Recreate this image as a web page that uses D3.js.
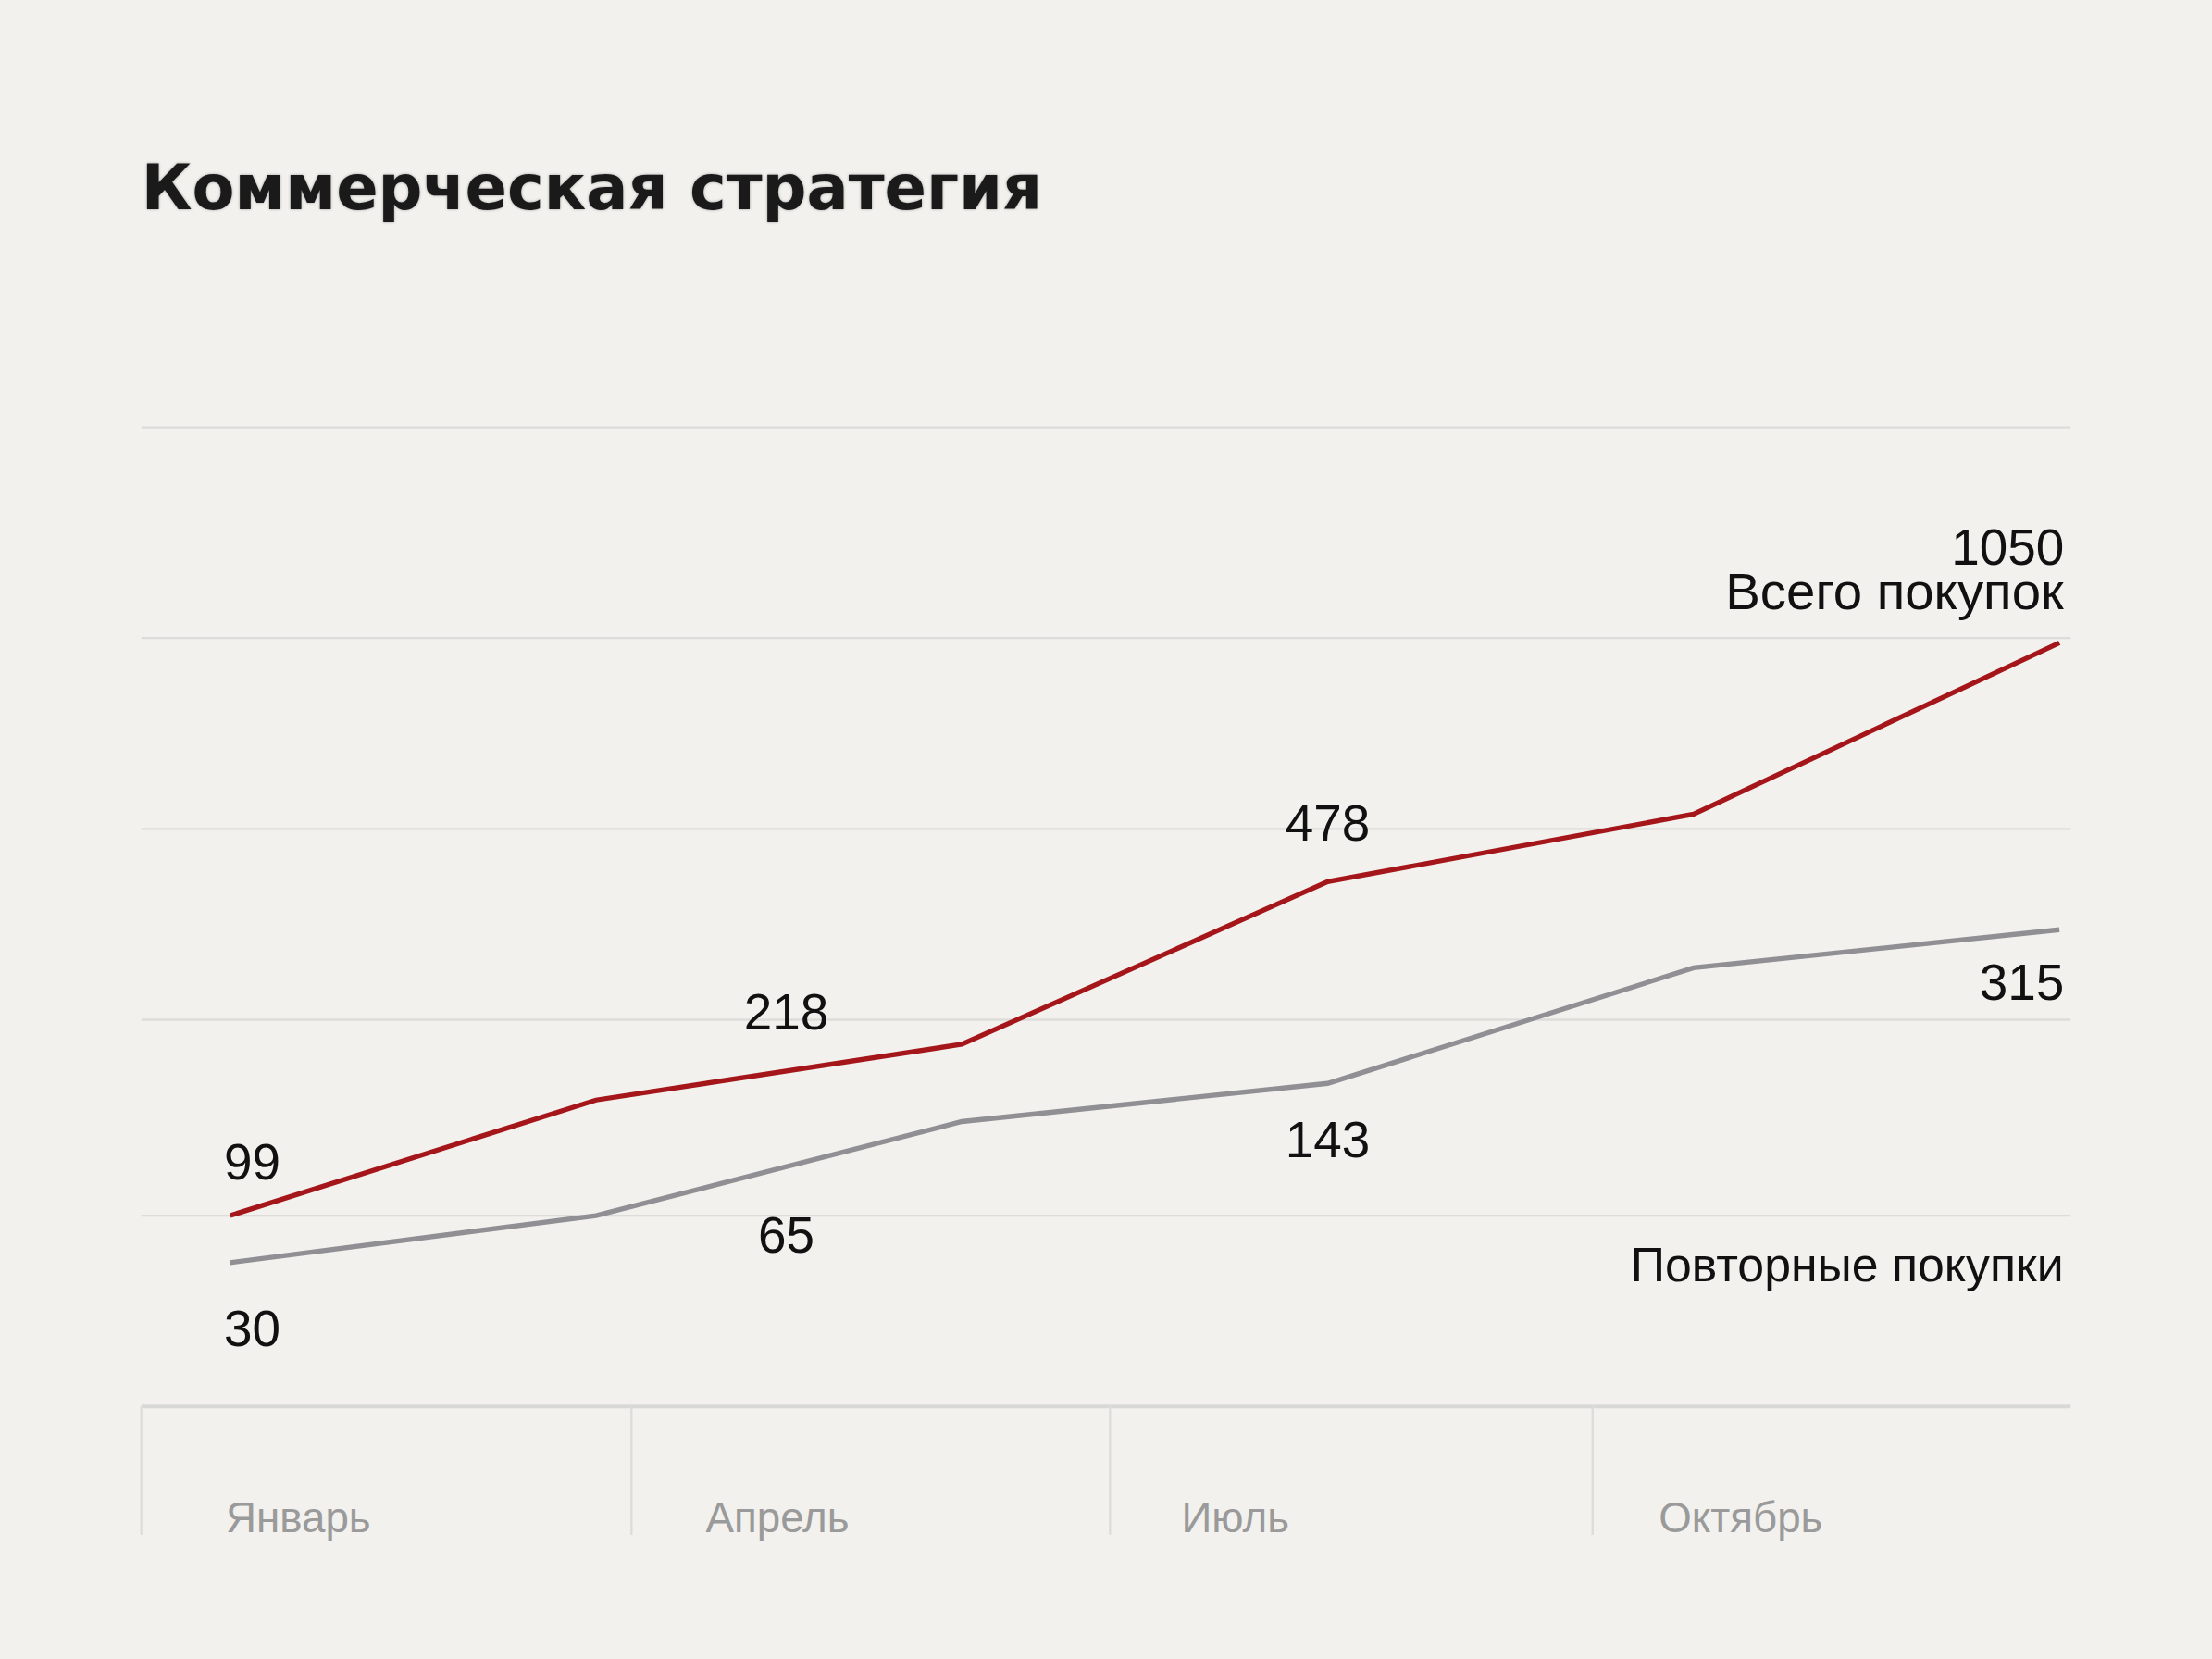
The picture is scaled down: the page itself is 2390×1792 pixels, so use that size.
<!DOCTYPE html>
<html><head><meta charset="utf-8">
<script src="https://cdn.jsdelivr.net/npm/d3@7"></script>
<style>
body{margin:0;background:#f2f1ee;}
text{font-family:"Liberation Sans",Arial,sans-serif;}
</style></head>
<body>
<script>
// data (chart units)
var pointIndex = [0, 1, 2, 3, 4, 5];
var totalLevels = [195, 313, 370, 536, 605, 780];
var repeatLevels = [147, 195, 291, 330, 448, 487];
var gridLevels = [0, 195, 395, 590, 785, 1000];
var months = ['Январь', 'Апрель', 'Июль', 'Октябрь'];
var monthPos = [-0.012, 1.30, 2.60, 3.905];
var tickPos = [-0.243, 1.097, 2.405, 3.724];
var valueLabels = [
  {t: '99', i: 0.06, v: 232},
  {t: '218', i: 1.52, v: 385},
  {t: '478', i: 3.0, v: 578},
  {t: '1050', i: 4.94, v: 860},
  {t: '30', i: 0.06, v: 62},
  {t: '65', i: 1.52, v: 157},
  {t: '143', i: 3.0, v: 255},
  {t: '315', i: 4.94, v: 415}
];

// ----------------------------------------------------------------------------
var svg = d3.select('body').append('svg')
  .attr('width', 2390).attr('height', 1792)
  .attr('viewBox', '0 0 1568 1176');

var x = d3.scaleLinear().domain([0, 5]).range([163, 1460]);
var y = d3.scaleLinear().domain([0, 1000]).range([997, 303]);

svg.append('text').attr('x', 100).attr('y', 148)
  .style('font-family', '"DejaVu Sans", sans-serif')
  .style('font-size', '44px').style('font-weight', 'bold').style('fill', '#1a1a1a')
  .style('text-shadow', '0 0 3px rgba(0,0,0,0.35)')
  .text('Коммерческая стратегия');

svg.selectAll('.grid').data(gridLevels).enter().append('line')
  .attr('x1', 100).attr('x2', 1468)
  .attr('y1', function (d) { return y(d); })
  .attr('y2', function (d) { return y(d); })
  .style('stroke', function (d) { return d === 0 ? '#d8d8d6' : '#dcdcda'; })
  .style('stroke-width', function (d) { return d === 0 ? 2.5 : 1.5; });

svg.selectAll('.tick').data(tickPos).enter().append('line')
  .attr('x1', function (d) { return x(d); })
  .attr('x2', function (d) { return x(d); })
  .attr('y1', y(0)).attr('y2', 1088)
  .style('stroke', '#dcdcda').style('stroke-width', 1.5);

svg.selectAll('.month').data(months).enter().append('text')
  .attr('x', function (d, i) { return x(monthPos[i]); })
  .attr('y', 1086)
  .style('font-size', '30px').style('fill', '#9a9a9a')
  .text(function (d) { return d; });

var line = d3.line()
  .x(function (d, i) { return x(pointIndex[i]); })
  .y(function (d) { return y(d); });

svg.append('path').datum(repeatLevels).attr('d', line)
  .style('fill', 'none').style('stroke', '#8f8f94').style('stroke-width', 3.5);
svg.append('path').datum(totalLevels).attr('d', line)
  .style('fill', 'none').style('stroke', '#a5161a').style('stroke-width', 3.5);

svg.selectAll('.val').data(valueLabels).enter().append('text')
  .attr('x', function (d) { return x(d.i); })
  .attr('y', function (d) { return y(d.v); })
  .attr('text-anchor', function (d) { return d.i > 4.5 ? 'end' : 'middle'; })
  .attr('dx', function (d) { return d.i > 4.5 ? 19 : 0; })
  .style('font-size', '36px').style('fill', '#111')
  .text(function (d) { return d.t; });

svg.append('text').attr('x', 1463).attr('y', 432).attr('text-anchor', 'end')
  .style('font-size', '37px').style('fill', '#111').text('Всего покупок');
svg.append('text').attr('x', 1463).attr('y', 908).attr('text-anchor', 'end')
  .style('font-size', '34px').style('fill', '#111').text('Повторные покупки');
</script>
</body></html>
